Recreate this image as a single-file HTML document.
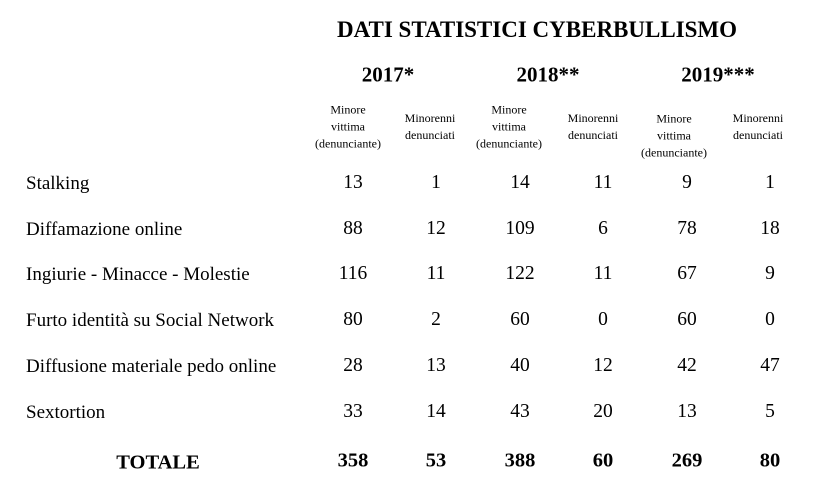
<!DOCTYPE html>
<html><head><meta charset="utf-8"><style>
body{margin:0;width:832px;height:493px;background:#fff;position:relative;font-family:"Liberation Serif",serif;color:#000;overflow:hidden}
div{position:absolute;white-space:nowrap}
.c{transform:translate(-50%,-50%);text-align:center}
.l{transform:translateY(-50%);left:26px;font-size:19px}
.t{font-weight:bold;font-size:23px}
.y{font-weight:bold;font-size:21px}
.s{font-size:12px;line-height:17px}
.n{font-size:19.5px}
.b{font-weight:bold;font-size:20.5px}
</style></head><body>
<div class="c t" style="left:537px;top:30px">DATI STATISTICI CYBERBULLISMO</div>
<div class="c y" style="left:388px;top:75px">2017*</div>
<div class="c y" style="left:548px;top:75px">2018**</div>
<div class="c y" style="left:718px;top:75px">2019***</div>
<div class="c s" style="left:348px;top:127px">Minore<br>vittima<br>(denunciante)</div>
<div class="c s" style="left:430px;top:127px">Minorenni<br>denunciati</div>
<div class="c s" style="left:509px;top:127px">Minore<br>vittima<br>(denunciante)</div>
<div class="c s" style="left:593px;top:127px">Minorenni<br>denunciati</div>
<div class="c s" style="left:674px;top:136px">Minore<br>vittima<br>(denunciante)</div>
<div class="c s" style="left:758px;top:127px">Minorenni<br>denunciati</div>

<div class="l" style="top:184px">Stalking</div>
<div class="l" style="top:230px">Diffamazione online</div>
<div class="l" style="top:275px">Ingiurie - Minacce - Molestie</div>
<div class="l" style="top:321px">Furto identità su Social Network</div>
<div class="l" style="top:367px">Diffusione materiale pedo online</div>
<div class="l" style="top:413px">Sextortion</div>
<div class="c b" style="left:158px;top:463px">TOTALE</div>

<div class="c n" style="left:353px;top:183px">13</div><div class="c n" style="left:436px;top:183px">1</div><div class="c n" style="left:520px;top:183px">14</div><div class="c n" style="left:603px;top:183px">11</div><div class="c n" style="left:687px;top:183px">9</div><div class="c n" style="left:770px;top:183px">1</div>
<div class="c n" style="left:353px;top:229px">88</div><div class="c n" style="left:436px;top:229px">12</div><div class="c n" style="left:520px;top:229px">109</div><div class="c n" style="left:603px;top:229px">6</div><div class="c n" style="left:687px;top:229px">78</div><div class="c n" style="left:770px;top:229px">18</div>
<div class="c n" style="left:353px;top:274px">116</div><div class="c n" style="left:436px;top:274px">11</div><div class="c n" style="left:520px;top:274px">122</div><div class="c n" style="left:603px;top:274px">11</div><div class="c n" style="left:687px;top:274px">67</div><div class="c n" style="left:770px;top:274px">9</div>
<div class="c n" style="left:353px;top:320px">80</div><div class="c n" style="left:436px;top:320px">2</div><div class="c n" style="left:520px;top:320px">60</div><div class="c n" style="left:603px;top:320px">0</div><div class="c n" style="left:687px;top:320px">60</div><div class="c n" style="left:770px;top:320px">0</div>
<div class="c n" style="left:353px;top:366px">28</div><div class="c n" style="left:436px;top:366px">13</div><div class="c n" style="left:520px;top:366px">40</div><div class="c n" style="left:603px;top:366px">12</div><div class="c n" style="left:687px;top:366px">42</div><div class="c n" style="left:770px;top:366px">47</div>
<div class="c n" style="left:353px;top:412px">33</div><div class="c n" style="left:436px;top:412px">14</div><div class="c n" style="left:520px;top:412px">43</div><div class="c n" style="left:603px;top:412px">20</div><div class="c n" style="left:687px;top:412px">13</div><div class="c n" style="left:770px;top:412px">5</div>
<div class="c b" style="left:353px;top:461px">358</div><div class="c b" style="left:436px;top:461px">53</div><div class="c b" style="left:520px;top:461px">388</div><div class="c b" style="left:603px;top:461px">60</div><div class="c b" style="left:687px;top:461px">269</div><div class="c b" style="left:770px;top:461px">80</div>
</body></html>
